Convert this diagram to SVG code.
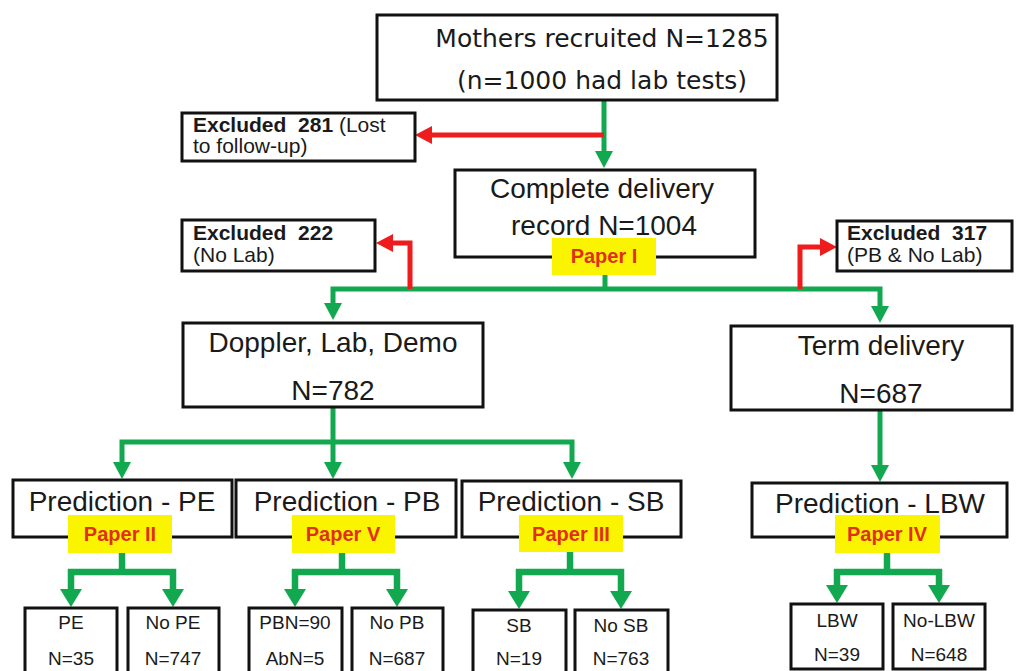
<svg xmlns="http://www.w3.org/2000/svg" width="1018" height="671" viewBox="0 0 1018 671">
  <style>
    .box { fill: #ffffff; stroke: #111111; stroke-width: 3; }
    .paper { fill: #fbf400; }
    .big { font-family: "Liberation Sans", Arial, sans-serif; font-size: 28px; fill: #1a1a1a; text-anchor: middle; }
    .title { font-family: "DejaVu Sans", Verdana, sans-serif; font-size: 25px; fill: #1a1a1a; text-anchor: middle; }
    .excl { font-family: "Liberation Sans", Arial, sans-serif; font-size: 21px; fill: #1a1a1a; }
    .excl .b { font-weight: bold; }
    .small { font-family: "Liberation Sans", Arial, sans-serif; font-size: 19px; fill: #1a1a1a; text-anchor: middle; }
    .ptext { font-family: "Liberation Sans", Arial, sans-serif; font-size: 20px; font-weight: bold; fill: #e0301c; text-anchor: middle; }
    .g { fill: none; stroke: #12a84f; stroke-width: 5; stroke-linejoin: miter; }
    .g2 { fill: none; stroke: #12a84f; stroke-width: 6.5; stroke-linejoin: miter; }
    .r { fill: none; stroke: #ee1c1c; stroke-width: 5; stroke-linejoin: miter; }
  </style>
  <defs>
    <marker id="hg" viewBox="0 -9 17 18" refX="0" refY="0" markerWidth="17" markerHeight="18" markerUnits="userSpaceOnUse" orient="auto-start-reverse">
      <path d="M0,-9 L17,0 L0,9 z" fill="#12a84f"/>
    </marker>
    <marker id="hg2" viewBox="0 -11 18 22" refX="0" refY="0" markerWidth="18" markerHeight="22" markerUnits="userSpaceOnUse" orient="auto-start-reverse">
      <path d="M0,-11 L18,0 L0,11 z" fill="#12a84f"/>
    </marker>
    <marker id="hr" viewBox="0 -9 17 18" refX="0" refY="0" markerWidth="17" markerHeight="18" markerUnits="userSpaceOnUse" orient="auto">
      <path d="M0,-9 L17,0 L0,9 z" fill="#ee1c1c"/>
    </marker>
  </defs>

  <rect width="1018" height="671" fill="#ffffff"/>

  <!-- connectors -->
  <g id="connectors">
    <path class="g" d="M604,100 V151" marker-end="url(#hg)"/>
    <path class="r" d="M604,135 H432" marker-end="url(#hr)"/>
    <path class="g" d="M605,274 V289"/>
    <path class="g" d="M333,303 V289 H880 V306" marker-start="url(#hg)" marker-end="url(#hg)"/>
    <path class="r" d="M410,289 V243 H393" marker-end="url(#hr)"/>
    <path class="r" d="M800,289 V247 H820" marker-end="url(#hr)"/>
    <path class="g" d="M333,407 V462" marker-end="url(#hg)"/>
    <path class="g" d="M122,462 V442 H572 V462" marker-start="url(#hg)" marker-end="url(#hg)"/>
    <path class="g" d="M880,410 V465" marker-end="url(#hg)"/>
    <!-- outcome branches -->
    <path class="g2" d="M122,552 V572"/>
    <path class="g2" d="M71,589 V572 H173 V589" marker-start="url(#hg2)" marker-end="url(#hg2)"/>
    <path class="g2" d="M342,552 V572"/>
    <path class="g2" d="M295,589 V572 H397 V589" marker-start="url(#hg2)" marker-end="url(#hg2)"/>
    <path class="g2" d="M570,551 V572"/>
    <path class="g2" d="M519,591 V572 H621 V591" marker-start="url(#hg2)" marker-end="url(#hg2)"/>
    <path class="g2" d="M887,552 V572"/>
    <path class="g2" d="M837,585 V572 H939 V585" marker-start="url(#hg2)" marker-end="url(#hg2)"/>
  </g>

  <g id="recruited">
    <rect class="box" x="377" y="15" width="400" height="85"/>
    <text class="title" x="602" y="47">Mothers recruited N=1285</text>
    <text class="title" x="602" y="89">(n=1000 had lab tests)</text>
  </g>

  <g id="excluded-281">
    <rect class="box" x="182" y="113" width="233" height="48"/>
    <text class="excl" x="193" y="132"><tspan class="b">Excluded&#160; 281</tspan> (Lost</text>
    <text class="excl" x="193" y="153">to follow-up)</text>
  </g>

  <g id="complete-delivery">
    <rect class="box" x="455" y="170" width="300" height="87"/>
    <text class="big" x="602" y="198">Complete delivery</text>
    <text class="big" x="604" y="235">record N=1004</text>
    <rect class="paper" x="552" y="238" width="104" height="37"/>
    <text class="ptext" x="604" y="263">Paper I</text>
  </g>

  <g id="excluded-222">
    <rect class="box" x="182" y="220" width="193" height="51"/>
    <text class="excl" x="193" y="240"><tspan class="b">Excluded&#160; 222</tspan></text>
    <text class="excl" x="193" y="262">(No Lab)</text>
  </g>

  <g id="excluded-317">
    <rect class="box" x="837" y="221" width="175" height="50"/>
    <text class="excl" x="847" y="240"><tspan class="b">Excluded&#160; 317</tspan></text>
    <text class="excl" x="847" y="262">(PB &amp; No Lab)</text>
  </g>

  <g id="doppler">
    <rect class="box" x="183" y="323" width="300" height="84"/>
    <text class="big" x="333" y="352">Doppler, Lab, Demo</text>
    <text class="big" x="333" y="400">N=782</text>
  </g>

  <g id="term-delivery">
    <rect class="box" x="731" y="326" width="281" height="84"/>
    <text class="big" x="881" y="355">Term delivery</text>
    <text class="big" x="881" y="403">N=687</text>
  </g>

  <g id="prediction-pe">
    <rect class="box" x="13" y="480" width="219" height="57"/>
    <text class="big" x="122" y="511">Prediction - PE</text>
    <rect class="paper" x="68" y="515" width="104" height="38"/>
    <text class="ptext" x="120" y="541">Paper II</text>
  </g>

  <g id="prediction-pb">
    <rect class="box" x="236" y="480" width="220" height="57"/>
    <text class="big" x="347" y="511">Prediction - PB</text>
    <rect class="paper" x="292" y="515" width="103" height="38"/>
    <text class="ptext" x="343" y="541">Paper V</text>
  </g>

  <g id="prediction-sb">
    <rect class="box" x="462" y="481" width="219" height="56"/>
    <text class="big" x="571" y="511">Prediction - SB</text>
    <rect class="paper" x="519" y="515" width="104" height="37"/>
    <text class="ptext" x="571" y="541">Paper III</text>
  </g>

  <g id="prediction-lbw">
    <rect class="box" x="752" y="483" width="255" height="54"/>
    <text class="big" x="880" y="513">Prediction - LBW</text>
    <rect class="paper" x="835" y="515" width="105" height="38"/>
    <text class="ptext" x="887" y="541">Paper IV</text>
  </g>

  <g id="pe">
    <rect class="box" x="25" y="608" width="92" height="70"/>
    <text class="small" x="71" y="629">PE</text>
    <text class="small" x="71" y="665">N=35</text>
  </g>
  <g id="no-pe">
    <rect class="box" x="128" y="608" width="91" height="70"/>
    <text class="small" x="173" y="629">No PE</text>
    <text class="small" x="173" y="665">N=747</text>
  </g>
  <g id="pb">
    <rect class="box" x="249" y="608" width="93" height="70"/>
    <text class="small" x="295" y="629">PBN=90</text>
    <text class="small" x="295" y="665">AbN=5</text>
  </g>
  <g id="no-pb">
    <rect class="box" x="352" y="608" width="91" height="70"/>
    <text class="small" x="397" y="629">No PB</text>
    <text class="small" x="397" y="665">N=687</text>
  </g>
  <g id="sb">
    <rect class="box" x="473" y="610" width="93" height="70"/>
    <text class="small" x="519" y="632">SB</text>
    <text class="small" x="519" y="665">N=19</text>
  </g>
  <g id="no-sb">
    <rect class="box" x="575" y="610" width="93" height="70"/>
    <text class="small" x="621" y="632">No SB</text>
    <text class="small" x="621" y="665">N=763</text>
  </g>
  <g id="lbw">
    <rect class="box" x="791" y="604" width="92" height="65"/>
    <text class="small" x="837" y="627">LBW</text>
    <text class="small" x="837" y="661">N=39</text>
  </g>
  <g id="no-lbw">
    <rect class="box" x="893" y="604" width="92" height="65"/>
    <text class="small" x="939" y="627">No-LBW</text>
    <text class="small" x="939" y="661">N=648</text>
  </g>
</svg>
